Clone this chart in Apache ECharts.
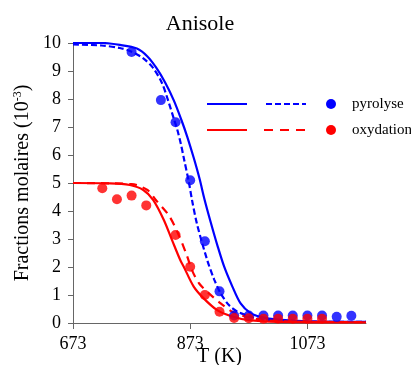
<!DOCTYPE html>
<html><head><meta charset="utf-8">
<script src="https://cdn.jsdelivr.net/npm/echarts@6/dist/echarts.min.js"></script>
<style>html,body{margin:0;padding:0;background:#fff}#c{width:411px;height:365px}</style>
</head><body><div id="c"></div>
<script>
var pyroSolidT = [673,723,753,782,800,815,830,845,858,868,879,889,897,908,920,931,945,959,976,993,1023,1073,1173];
var pyroSolid  = [10.0,10.0,9.93,9.8,9.52,9.12,8.6,7.95,7.25,6.65,5.9,5.15,4.45,3.6,2.73,2.01,1.3,0.7,0.35,0.22,0.12,0.06,0.04];
var pyroDashedT = [673,722,753,773,793,810,825,836,845,851,857,862,871,876,885,902,914,925,939,954,977,1000,1050,1173];
var pyroDashed  = [9.95,9.91,9.82,9.69,9.45,9.1,8.56,7.9,7.3,6.9,6.4,5.9,5.0,4.4,3.5,2.25,1.55,1.06,0.64,0.4,0.22,0.12,0.06,0.04];
var oxySolidT = [673,736,770,793,810,828,842,856,862,879,896,919,942,973,1023,1173];
var oxySolid  = [5.0,4.99,4.93,4.75,4.39,3.68,2.96,2.25,2.01,1.3,0.88,0.46,0.25,0.1,0.04,0.02];
var oxyDashedT = [673,773,800,814,836,851,867,876,888,905,925,945,973,1000,1050,1173];
var oxyDashed  = [5.0,4.96,4.75,4.4,3.86,3.26,2.43,1.89,1.42,1.06,0.7,0.4,0.2,0.1,0.05,0.03];
var pyroExpT = [773,823,848,873,898,923,948,973,998,1023,1048,1073,1098,1123,1148];
var pyroExp  = [9.68,7.96,7.17,5.1,2.92,1.13,0.27,0.27,0.27,0.27,0.27,0.27,0.27,0.22,0.26];
var oxyExpT = [723,748,773,798,848,873,898,923,948,973,998,1023,1048,1073,1098];
var oxyExp  = [4.81,4.42,4.55,4.2,3.14,2.01,1.0,0.4,0.18,0.17,0.15,0.15,0.15,0.15,0.15];
var xTicks = [673,873,1073];
var titleText = 'Anisole';
var legendNames = ['pyrolyse','oxydation'];

function pairs(xs, ys){ return xs.map(function(x,i){ return [x, ys[i]]; }); }
var BLUE = '#0000ff', RED = '#ff0000';
var font = 'Liberation Serif';
var chart = echarts.init(document.getElementById('c'));
function lineSeries(data, color, dash, z){
  return {type:'line', data:data, showSymbol:false, symbol:'none', smooth:0.3, z:z, silent:true,
    lineStyle:{color:color, width:2.2, type: dash ? dash : 'solid'}};
}
function dotSeries(data, color, z){
  return {type:'scatter', data:data, symbol:'circle', symbolSize:10, z:z, itemStyle:{color:color}};
}
chart.setOption({
  animation:false,
  title:{text:titleText, left:195, top:8, textAlign:'center', textStyle:{fontFamily:font, fontSize:22, fontWeight:'normal', color:'#000'}},
  grid:{left:73, right:45, top:43, bottom:42, containLabel:false, outerBoundsMode:'none'},
  xAxis:{type:'value', min:673, max:1173,
    name:'T (K)', nameLocation:'middle', nameGap:24, nameMoveOverlap:false,
    nameTextStyle:{fontFamily:font, fontSize:20, color:'#000'},
    axisLine:{lineStyle:{color:'#666', width:1}},
    axisTick:{show:true, length:6, customValues:xTicks, lineStyle:{color:'#666'}},
    axisLabel:{customValues:xTicks, margin:12, fontFamily:font, fontSize:18, color:'#000', formatter:function(v){return String(v);}},
    splitLine:{show:false}},
  yAxis:{type:'value', min:0, max:10, interval:1,
    name:'Fractions molaires (10{s|-3})', nameLocation:'middle', nameRotate:90, nameGap:40, nameMoveOverlap:false,
    nameTextStyle:{fontFamily:font, fontSize:20, color:'#000', rich:{s:{fontFamily:font, fontSize:12, color:'#000', padding:[0,0,9,0]}}},
    axisLine:{show:true, lineStyle:{color:'#666', width:1}},
    axisTick:{show:true, length:5, lineStyle:{color:'#666'}},
    axisLabel:{margin:12, fontFamily:font, fontSize:18, color:'#000'},
    splitLine:{show:false}},
  graphic:[
    {type:'line', shape:{x1:207,y1:104,x2:247,y2:104}, style:{stroke:BLUE, lineWidth:2.2}},
    {type:'line', shape:{x1:266,y1:104,x2:306,y2:104}, style:{stroke:BLUE, lineWidth:2.2, lineDash:[6,3]}},
    {type:'circle', shape:{cx:331,cy:104,r:5}, style:{fill:BLUE}},
    {type:'text', x:352, y:104, style:{text:legendNames[0], font:'15px "Liberation Serif"', fill:'#000', verticalAlign:'middle'}},
    {type:'line', shape:{x1:207,y1:130,x2:247,y2:130}, style:{stroke:RED, lineWidth:2.2}},
    {type:'line', shape:{x1:264,y1:130,x2:306,y2:130}, style:{stroke:RED, lineWidth:2.2, lineDash:[9,7]}},
    {type:'circle', shape:{cx:331,cy:130,r:5}, style:{fill:RED}},
    {type:'text', x:352, y:130, style:{text:legendNames[1], font:'15px "Liberation Serif"', fill:'#000', verticalAlign:'middle'}}
  ],
  series:[
    lineSeries(pairs(pyroSolidT, pyroSolid), BLUE, null, 2),
    lineSeries(pairs(pyroDashedT, pyroDashed), BLUE, [6,3], 2),
    lineSeries(pairs(oxySolidT, oxySolid), RED, null, 3),
    lineSeries(pairs(oxyDashedT, oxyDashed), RED, [8,6], 3),
    dotSeries(pairs(pyroExpT, pyroExp), BLUE, 4),
    dotSeries(pairs(oxyExpT, oxyExp), RED, 5)
  ]
});
</script></body></html>
